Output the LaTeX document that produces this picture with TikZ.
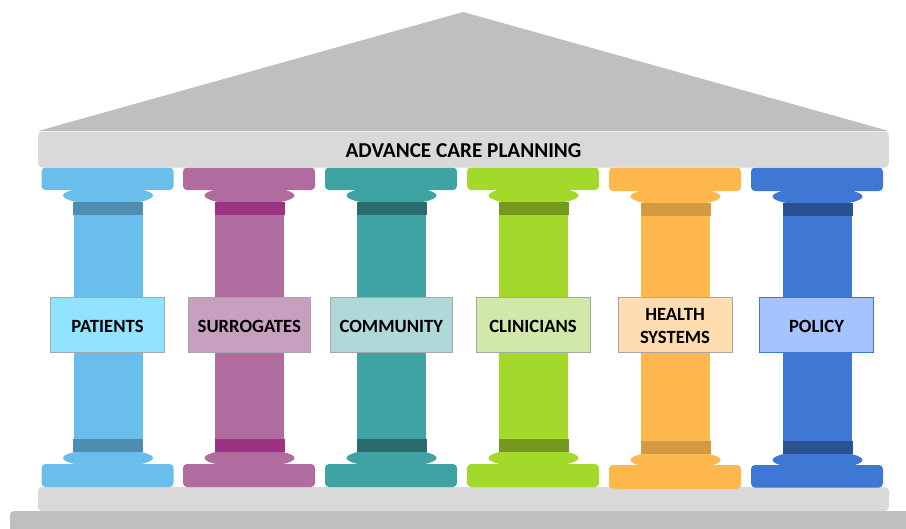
\documentclass[tikz,border=0pt]{standalone}
\usepackage{fontspec}
\setmainfont{Carlito}
\definecolor{roofc}{HTML}{BFBFBF}
\definecolor{beamc}{HTML}{D9D9D9}
\definecolor{cA}{HTML}{69BEEB}\definecolor{dA}{HTML}{4C8DB0}\definecolor{lA}{HTML}{92E3FF}
\definecolor{cB}{HTML}{B06C9F}\definecolor{dB}{HTML}{9B3282}\definecolor{lB}{HTML}{C79FBF}
\definecolor{cC}{HTML}{3FA3A3}\definecolor{dC}{HTML}{2A6B6B}\definecolor{lC}{HTML}{AFD8D8}
\definecolor{cD}{HTML}{A3D92B}\definecolor{dD}{HTML}{77981F}\definecolor{lD}{HTML}{D0E8A8}
\definecolor{cE}{HTML}{FFB84D}\definecolor{dE}{HTML}{D39B3F}\definecolor{lE}{HTML}{FFDDB1}
\definecolor{cF}{HTML}{3F77D4}\definecolor{dF}{HTML}{2A5292}\definecolor{lF}{HTML}{A6C3FF}
\newcommand{\dn}[1]{\raisebox{-0.8pt}[\height][\depth]{#1}}
\tikzset{
  x=0.75pt,y=-0.75pt,
  slab/.style={rounded corners=3pt,draw=none},
  labelbox/.style={draw=#1,line width=0.7pt,minimum height=41.5pt,inner sep=0pt,
    align=center,font=\fontsize{14}{17}\selectfont\bfseries,text=black},
  narrowbox/.style={labelbox=#1,minimum width=85.5pt},
  widebox/.style={labelbox=#1,minimum width=91.5pt},
}
% #1 colour suffix, #2 left edge of cap, #3 cap bottom y, #4 upper dark band top y,
% #5 base top y, #6 base bottom y, #7 lower dark band top y
\newcommand{\pillar}[7]{%
  \fill[c#1] (#2+66.5,#4-6.5) ellipse [x radius=45,y radius=9];
  \fill[c#1] (#2+66.5,#7+19) ellipse [x radius=45,y radius=9];
  \fill[c#1,slab] (#2,167.5) rectangle (#2+132,#3);
  \fill[c#1,slab] (#2,#5) rectangle (#2+132,#6);
  \fill[c#1] (#2+32,#4+13) rectangle (#2+101,#7);
  \fill[d#1] (#2+31.5,#4) rectangle (#2+101.5,#4+13);
  \fill[d#1] (#2+31.5,#7) rectangle (#2+101.5,#7+13);
}
\begin{document}
\begin{tikzpicture}
\useasboundingbox (0,0) rectangle (906,528);
\fill[white] (0,0) rectangle (906,528);
% pediment and plinths
\fill[roofc] (463,12) -- (889,131) -- (38,131) -- cycle;
\fill[roofc,rounded corners=3pt] (10,540) -- (10,511) -- (920,511) -- (920,540) -- cycle;
\fill[beamc,slab] (38,487) rectangle (889,511);
% pillars
\pillar{A}{41.5}{190}{202}{464}{487}{439}
\pillar{B}{183}{190}{202}{464}{487}{439}
\pillar{C}{325}{190}{202}{464}{487}{439}
\pillar{D}{467}{190}{202}{464}{487}{439}
\pillar{E}{609}{191}{203}{465}{489}{441}
\pillar{F}{751}{191}{203}{465}{487.5}{441}
% beam
\node[fill=beamc,rounded corners=3pt,minimum width=638pt,minimum height=27pt,inner sep=0pt,
  font=\fontsize{15.9}{17}\selectfont\bfseries,text=black] (beam) at (463.5,149.5) {\dn{ADVANCE CARE PLANNING}};
% labels
\node[narrowbox=black!35,fill=lA] (patients) at (107.5,325) {\dn{PATIENTS}};
\node[widebox=black!35,fill=lB] (surrogates) at (249.3,325) {\dn{SURROGATES}};
\node[widebox=black!35,fill=lC] (community) at (391.3,325) {\dn{COMMUNITY}};
\node[narrowbox=black!35,fill=lD] (clinicians) at (533,325) {\dn{CLINICIANS}};
\node[narrowbox=black!35,fill=lE] (health) at (675,325) {\dn{HEALTH}\\\dn{SYSTEMS}};
\node[narrowbox=cF,fill=lF] (policy) at (816.5,325) {\dn{POLICY}};
\end{tikzpicture}
\end{document}
